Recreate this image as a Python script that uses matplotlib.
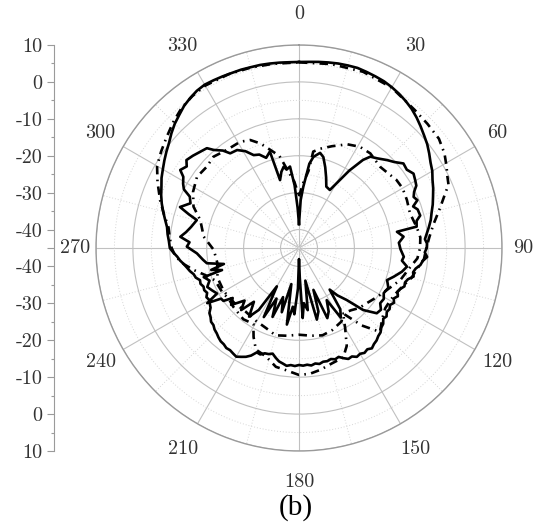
import numpy as np
import matplotlib
matplotlib.use("Agg")
import matplotlib.pyplot as plt

# co-pol, measured (solid)
copol_meas_deg = [0, 3, 6, 9, 12, 15, 18, 21, 24, 27, 30, 33, 36, 39, 42, 45, 48, 51, 54, 57, 60,
                  63, 66, 69, 72, 75, 78, 81, 84, 86, 88, 90, 92, 94, 96, 98, 100, 102, 104, 106,
                  108, 110, 112, 114, 116, 118, 120, 122, 124, 126, 128, 130, 132, 134, 136, 138,
                  140, 142, 144, 146, 148, 150, 152, 154, 156, 158, 160, 162, 164, 166, 168, 170,
                  172, 174, 176, 178, 180, 182, 184, 186, 188, 190, 192, 194, 196, 198, 200, 202,
                  204, 206, 208, 210, 212, 214, 216, 218, 220, 222, 224, 226, 228, 230, 232, 234,
                  236, 238, 240, 242, 244, 246, 248, 250, 252, 254, 256, 258, 260, 262, 264, 266,
                  268, 270, 273, 276, 279, 282, 285, 288, 291, 294, 297, 300, 303, 306, 309, 312,
                  315, 318, 321, 324, 327, 330, 333, 336, 339, 342, 345, 348, 351, 354, 357, 360]
copol_meas_db = [5.4, 5.5, 5.7, 5.9, 6.1, 6.2, 6.3, 6.1, 5.9, 5.7, 5.3, 4.8, 4.2, 3.5, 2.6, 1.6,
                 0.6, -0.3, -1.4, -2.5, -3.3, -4.4, -5.2, -6.1, -6.9, -7.8, -8.5, -9.4, -10.3,
                 -10.8, -10.3, -10.4, -10.9, -10.2, -11.3, -11.8, -12.9, -13.4, -13.0, -14.3, -14.8,
                 -14.6, -15.4, -15.8, -15.2, -15.9, -15.3, -15.9, -15.4, -15.6, -14.9, -15.2, -14.3,
                 -14.0, -13.2, -12.9, -12.3, -12.0, -11.4, -11.9, -11.5, -11.9, -11.6, -12.3, -12.1,
                 -12.8, -13.6, -13.3, -13.7, -13.4, -13.5, -13.1, -13.4, -13.0, -13.3, -13.1, -13.3,
                 -13.0, -13.2, -12.9, -13.4, -13.8, -14.6, -15.5, -15.1, -15.0, -14.3, -14.5, -13.1,
                 -12.2, -11.6, -11.0, -11.3, -11.6, -11.5, -11.9, -12.0, -12.4, -12.9, -13.2, -13.8,
                 -13.9, -14.6, -15.0, -16.1, -16.5, -16.9, -16.6, -17.3, -16.9, -17.1, -16.6, -16.8,
                 -15.9, -15.6, -14.8, -14.2, -13.5, -12.6, -11.9, -10.9, -10.0, -9.7, -9.2, -8.8,
                 -7.9, -6.9, -5.9, -5.0, -4.2, -3.2, -2.4, -1.5, -0.6, 0.3, 1.5, 2.6, 3.5, 4.5,
                 5.2, 5.8, 6.1, 6.0, 5.9, 5.8, 5.8, 5.7, 5.7, 5.6, 5.5, 5.4, 5.4]

# co-pol, simulated (dash-dot)
copol_sim_deg = [0, 10, 20, 30, 40, 46, 52, 57, 61, 64, 67, 70, 74, 80, 85, 90, 95, 100, 105, 110,
                 115, 120, 125, 130, 136, 141, 146, 150, 154, 158, 164, 170, 175, 180, 186, 191,
                 197, 203, 207, 211, 218, 228, 234, 240, 249, 254, 258, 262, 266, 270, 275, 279,
                 284, 289, 295, 300, 305, 310, 315, 320, 325, 330, 338, 345, 352, 360]
copol_sim_db = [5.3, 5.6, 5.8, 5.2, 3.8, 3.4, 3.1, 2.0, 0.7, -0.3, -1.0, -3.0, -5.2, -8.0, -9.5,
                -10.5, -11.0, -12.5, -13.5, -15.0, -16.0, -16.5, -16.5, -15.5, -13.4, -18.0, -23.6,
                -20.0, -15.5, -13.0, -12.5, -11.5, -10.8, -10.6, -11.7, -12.2, -14.3, -15.1, -17.9,
                -21.0, -20.5, -21.1, -21.5, -21.0, -20.6, -18.5, -16.0, -13.5, -11.5, -10.5, -9.8,
                -9.2, -7.3, -5.2, -2.7, -0.6, 0.6, 1.8, 3.2, 4.5, 5.3, 5.8, 5.8, 5.6, 5.4, 5.3]

# cross-pol, measured (solid)
xpol_meas_deg = [0, 2, 4, 7, 9, 12.5, 15, 18, 21, 24, 28, 31, 33, 36, 38, 41, 45, 48, 51, 54, 57,
                 60, 62, 64, 66, 68, 70, 72, 75, 77, 79.7, 80.6, 83.8, 87, 90.7, 94.8, 97, 99.8,
                 103, 106.9, 110, 114, 118, 121, 124.2, 127, 130, 134, 137.5, 141, 143.6, 146,
                 149, 152, 155, 158, 161, 163, 166, 169, 172, 175, 177, 178.5, 180, 181.5, 184,
                 186, 189, 192, 195, 198, 201, 204, 207, 210, 213, 216, 220, 223, 226, 230, 233,
                 235, 237, 239, 241, 244, 247, 250, 253, 254, 256, 258, 260.6, 263, 267, 270.7,
                 273, 275.4, 278, 281, 285.3, 287, 289, 292.4, 295.2, 297, 299, 301.6, 303.3, 306,
                 308, 311, 314, 317.3, 319, 322, 324, 327.7, 331, 334, 337, 340, 343.2, 344.4, 347,
                 349.3, 351, 353.7, 356, 358, 360]
xpol_meas_db = [-38.5, -32, -28.4, -22, -20, -18.6, -19.5, -22, -24.5, -26.8, -27.2, -23.5, -20,
                -15.5, -13.6, -12.8, -11.3, -10.2, -8.6, -8.9, -8.0, -8.6, -9.0, -10.3, -11, -10.4,
                -12.1, -11.2, -11, -12.3, -12.6, -18.1, -16.5, -17.9, -17.5, -16.5, -16.9, -15.3,
                -16.4, -18.2, -19.6, -18.5, -19.0, -18.2, -18.4, -17.2, -17.5, -20.8, -25.9, -28.5,
                -31, -25, -23, -29, -26, -24.5, -33, -27, -25, -36, -28, -30, -26, -37, -42, -34,
                -27, -29, -24, -35, -27, -31, -25, -30, -24, -33, -25, -22, -26, -22, -24.5, -21,
                -22.5, -20, -19.8, -16, -19.6, -18.8, -18, -19.2, -18, -23.3, -20.5, -24.2, -19.7,
                -18.8, -17.3, -14.6, -15.3, -12.7, -14.1, -15.2, -16.3, -13.8, -10.9, -13.2, -12.3,
                -10, -9.1, -8.2, -6.5, -7.4, -6.3, -6.9, -7.6, -8.2, -9.8, -11.5, -13.3, -13.6,
                -15, -17, -17.5, -19, -17.7, -25.9, -23.8, -22.6, -23.5, -22.8, -28, -34, -38.5]

# cross-pol, simulated (dash-dot)
xpol_sim_deg = [0, 4, 7, 8.4, 12, 18, 25, 31, 37, 45, 50, 55, 60, 66, 72.6, 80, 85, 90, 95, 100,
                107.5, 115.5, 122, 129, 135, 140, 145.5, 150, 158, 165, 172, 180, 188, 195, 202,
                211, 220, 230, 240, 250, 260, 268.7, 276.8, 285.8, 291.4, 298, 304.9, 311.5,
                316.8, 323.7, 331, 335.7, 339.7, 343.7, 348, 352, 356, 360]
xpol_sim_db = [-31, -27, -24, -18.6, -17.5, -16, -14, -13, -12.9, -13.9, -13.5, -12.8, -12.6, -13,
               -13.5, -12.6, -12, -12.2, -12.8, -14.5, -16.2, -18.6, -20, -21.3, -22, -23, -23.6,
               -22, -21, -20.5, -21, -21.5, -21, -20.5, -21.5, -22.1, -22.5, -22, -21.5, -21.5,
               -22.5, -21.9, -19, -17.2, -14.3, -12.5, -11.3, -11.7, -11.1, -12, -12.1, -12.9,
               -14.8, -17.3, -19.5, -24, -27, -31]

theta_labels = ['0', '30', '60', '90', '120', '150', '180', '210', '240', '270', '300', '330']
ring_major = [-40, -30, -20, -10, 0, 10]
ring_minor = [-35, -25, -15, -5, 5]
r_min, r_max = -45, 10

W, H = 539, 525
fig = plt.figure(figsize=(W / 100, H / 100), dpi=100)
cx, cy, rad = 299, 248, 203
ax = fig.add_axes([(cx - rad) / W, (H - cy - rad) / H, 2 * rad / W, 2 * rad / H],
                  projection='polar')
ax.set_theta_zero_location('N')
ax.set_theta_direction(-1)
ax.set_ylim(r_min, r_max)

ax.set_xticks(np.deg2rad(np.arange(0, 360, 30)))
ax.set_xticks(np.deg2rad(np.arange(15, 360, 30)), minor=True)
ax.set_yticks(ring_major)
ax.set_yticks(ring_minor, minor=True)
ax.set_xticklabels([])
ax.set_yticklabels([])
ax.grid(which='major', color='#c0c0c0', lw=0.8, ls='-')
ax.grid(which='minor', color='#d6d6d6', lw=0.7, ls=(0, (1, 2)))
ax.tick_params(axis='x', which='both', length=4, direction='inout', color='#aaaaaa', width=0.8)
ax.tick_params(axis='y', which='both', length=0)
ax.spines['polar'].set_color('#9a9a9a')
ax.spines['polar'].set_linewidth(1.0)
ax.set_axisbelow(True)

solid = dict(color='black', lw=1.9, ls='-', solid_joinstyle='round')
dashdot = dict(color='black', lw=1.9, ls=(0, (3.2, 2.0, 0.6, 2.0)))
ax.plot(np.deg2rad(copol_meas_deg), copol_meas_db, **solid)
ax.plot(np.deg2rad(copol_sim_deg), copol_sim_db, **dashdot)
ax.plot(np.deg2rad(xpol_meas_deg), xpol_meas_db, **solid)
ax.plot(np.deg2rad(xpol_sim_deg), xpol_sim_db, **dashdot)

px_per_db = rad / (r_max - r_min)
for i, lab in enumerate(theta_labels):
    th = np.deg2rad(30 * i)
    r_px = 224 + 10 * abs(np.cos(th))
    ax.text(th, r_min + r_px / px_per_db, lab, family='cmr10', fontsize=14.5, color='#333333',
            ha='center', va='center', clip_on=False)

# left dB scale (mirrored about the centre)
ax2 = fig.add_axes([54 / W, (H - cy - rad) / H, 0.0001, 2 * rad / H])
half = r_max - r_min
ax2.set_ylim(-half, half)
ax2.set_xticks([])
for s in ['top', 'right', 'bottom']:
    ax2.spines[s].set_visible(False)
ax2.spines['left'].set_color('#9a9a9a')
major_pos = [-55, -45, -35, -25, -15, -5, 0, 5, 15, 25, 35, 45, 55]
major_lab = ['' if p == 0 else str(abs(p) + r_min) for p in major_pos]
ax2.set_yticks(major_pos)
ax2.set_yticklabels(major_lab, family='cmr10', fontsize=14.5, color='#333333')
ax2.set_yticks([-50, -40, -30, -20, -10, 10, 20, 30, 40, 50], minor=True)
ax2.tick_params(axis='y', which='major', length=5, width=0.8, color='#9a9a9a', pad=3.5)
ax2.tick_params(axis='y', which='minor', length=2.5, width=0.8, color='#9a9a9a')

fig.text(296 / W, 1 - 508 / H, '(b)', family='Liberation Serif', fontsize=21,
         ha='center', va='center')

fig.savefig('out.png', dpi=100)
